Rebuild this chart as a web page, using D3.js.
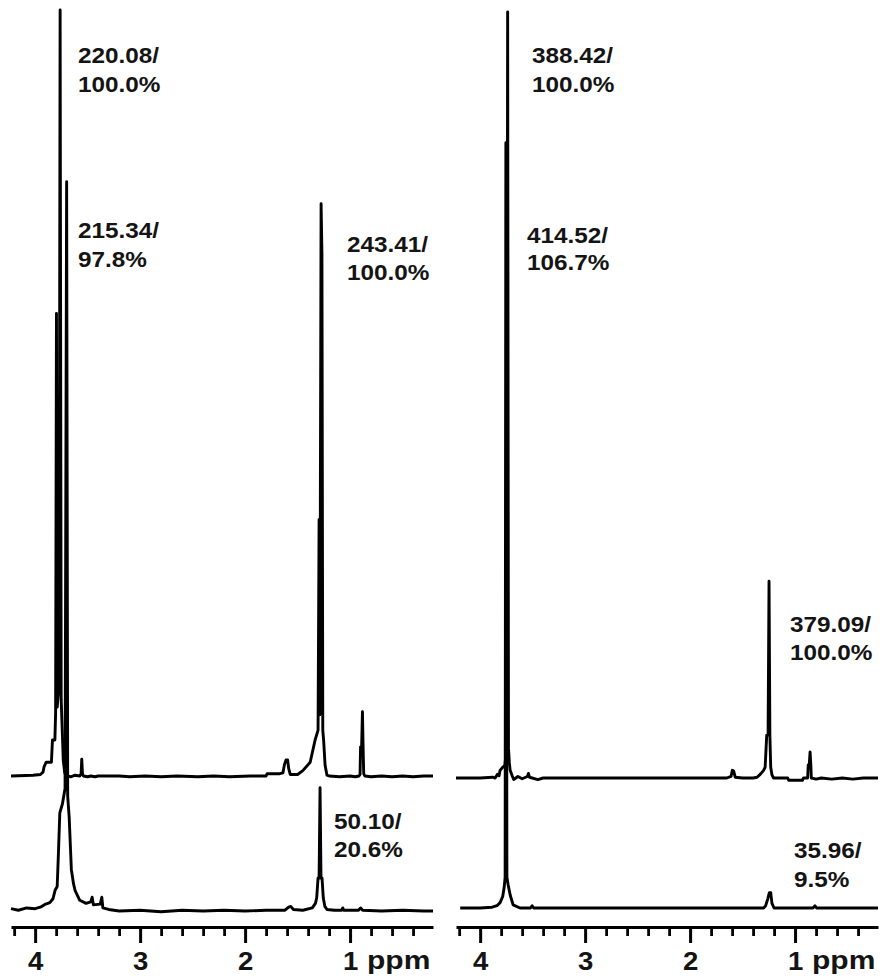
<!DOCTYPE html>
<html>
<head>
<meta charset="utf-8">
<script src="https://cdn.jsdelivr.net/npm/d3@7"></script>
<style>
  body { margin: 0; background: #fff; }
  svg { display: block; }
  .lbl, .tick text, .unit { font-family: "Liberation Sans", Arial, sans-serif; font-weight: bold; fill: #141414; }
</style>
</head>
<body>
<svg id="chart" width="885" height="978"></svg>
<script>
// 1H NMR spectra, chemical shift in ppm vs. relative intensity (tallest line = 100)

// Left panel, upper spectrum
const leftUpperTrace = [
  [4.23, 0], [4.02, 0.1], [3.95, 0.2], [3.925, 0.5], [3.915, 1.2], [3.895, 1.8], [3.845, 1.8],
  [3.835, 4.7], [3.812, 4.7], [3.805, 8.2], [3.797, 60.4], [3.790, 9], [3.772, 12], [3.762, 100],
  [3.752, 10], [3.742, 6], [3.732, 2], [3.718, 0.4], [3.70, 0], [3.66, -0.1], [3.62, 0.1],
  [3.575, 0], [3.562, 0.3], [3.556, 2.2], [3.549, 0.3], [3.54, 0], [3.50, -0.1], [3.47, 0],
  [3.43, -0.1], [3.40, 0], [3.20, 0], [3.10, -0.1], [2.95, 0], [2.80, -0.1], [2.65, 0],
  [2.45, -0.1], [2.30, 0], [2.15, -0.1], [1.95, 0], [1.80, 0], [1.79, 0.3], [1.67, 0.3],
  [1.64, 0.4], [1.625, 1.5], [1.61, 2.1], [1.595, 2.1], [1.585, 1.0], [1.57, 0.2], [1.50, 0.2],
  [1.45, 0.7], [1.38, 1.8], [1.333, 4.7], [1.305, 6.0], [1.295, 33.5], [1.288, 8], [1.276, 74.7],
  [1.268, 68.1], [1.26, 6], [1.252, 4.7], [1.238, 1.4], [1.22, 0.1], [1.20, 0], [1.10, -0.1],
  [1.00, 0], [0.95, -0.1], [0.915, 0], [0.905, 0.2], [0.900, 3.8], [0.890, 3.8], [0.882, 8.4],
  [0.876, 3.8], [0.870, 0.3], [0.86, 0], [0.80, -0.1], [0.70, 0], [0.60, -0.1], [0.50, 0],
  [0.40, -0.1], [0.30, 0], [0.21, 0]
];

// Left panel, lower spectrum
const leftLowerTrace = [
  [4.23, 0.3], [4.16, 0.1], [4.08, 0.4], [4.00, 0.3], [3.95, 0.5], [3.90, 0.9], [3.86, 1.1],
  [3.83, 1.6], [3.81, 2.7], [3.79, 3.2], [3.778, 7.6], [3.765, 12.8], [3.74, 14], [3.715, 16],
  [3.700, 95.2], [3.690, 15], [3.676, 12.3], [3.655, 5.4], [3.635, 3.6], [3.62, 2.7], [3.575, 1.4],
  [3.515, 1.0], [3.47, 1.2], [3.457, 1.8], [3.445, 0.8], [3.38, 0.9], [3.365, 1.8], [3.355, 0.4],
  [3.30, 0.2], [3.20, 0], [3.00, 0.1], [2.80, -0.1], [2.60, 0.1], [2.40, 0], [2.20, 0.1],
  [2.00, 0], [1.80, 0.1], [1.62, 0.1], [1.585, 0.5], [1.565, 0.6], [1.54, 0.2], [1.45, 0.1],
  [1.36, 0.4], [1.33, 1.0], [1.318, 1.7], [1.305, 4.3], [1.295, 4.3], [1.286, 16.1], [1.277, 4.3],
  [1.267, 4.3], [1.255, 1.7], [1.24, 0.6], [1.22, 0.2], [1.15, 0.1], [1.08, 0.1], [1.07, 0.4],
  [1.06, 0.1], [0.92, 0.1], [0.90, 0.4], [0.88, 0.1], [0.70, 0], [0.50, 0.1], [0.30, 0], [0.21, 0]
];

// Right panel, upper spectrum
const rightUpperTrace = [
  [4.23, 0], [4.00, 0], [3.88, 0.1], [3.857, 0], [3.835, 0.5], [3.82, 0.3], [3.81, 1.0],
  [3.785, 1.4], [3.765, 1.6], [3.748, 3.9], [3.738, 100], [3.730, 3.9], [3.722, 2.0], [3.714, 1.0],
  [3.695, 0.3], [3.68, -0.2], [3.64, 0.2], [3.60, -0.1], [3.55, 0.2], [3.54, 0.6], [3.53, 0.1],
  [3.45, -0.2], [3.40, 0], [3.00, 0], [2.50, 0], [2.00, 0], [1.65, 0], [1.61, 0.2], [1.598, 1.0],
  [1.585, 0.9], [1.57, 0.1], [1.50, 0], [1.40, 0], [1.362, 0.1], [1.33, 0.5], [1.30, 1.0],
  [1.285, 1.4], [1.27, 5.6], [1.257, 5.6], [1.248, 25.7], [1.240, 5.6], [1.232, 1.4], [1.22, 0.4],
  [1.205, 0], [1.07, 0], [1.06, -0.3], [0.93, -0.3], [0.92, 0], [0.88, 0], [0.875, 1.7],
  [0.865, 1.7], [0.857, 3.4], [0.850, 1.7], [0.845, 0], [0.80, -0.15], [0.75, 0], [0.65, -0.15],
  [0.55, 0], [0.45, -0.15], [0.35, 0], [0.21, 0]
];

// Right panel, lower spectrum
const rightLowerTrace = [
  [4.19, 0], [4.00, 0], [3.886, 0.1], [3.84, 0.3], [3.81, 0.7], [3.785, 1.5], [3.771, 2.7],
  [3.762, 4.0], [3.755, 99.9], [3.745, 4.0], [3.733, 3.0], [3.714, 1.7], [3.686, 0.4], [3.62, 0],
  [3.52, 0], [3.505, 0.3], [3.49, 0], [3.00, 0], [2.00, 0], [1.30, 0], [1.28, 0.3], [1.26, 1.2],
  [1.245, 2.0], [1.232, 2.0], [1.22, 0.6], [1.20, 0], [0.83, 0], [0.81, 0.3], [0.795, 0], [0.21, 0]
];

// Integrals of the annotated signals (3.7 ppm, 1.3 ppm)
const leftUpperIntegrals = [220.08, 243.41];
const leftLowerIntegrals = [215.34, 50.10];
const rightUpperIntegrals = [388.42, 379.09];
const rightLowerIntegrals = [414.52, 35.96];

// Axis ticks (ppm)
const majorTicks = [4, 3, 2, 1];
const minorTicks = [4.2, 3.8, 3.6, 3.4, 3.2, 2.8, 2.6, 2.4, 2.2, 1.8, 1.6, 1.4, 1.2, 0.8, 0.6, 0.4];
const ppmDomain = [4.23, 0.21];
const unitLabel = "ppm";

// ---------- layout ----------
const svg = d3.select("#chart");
const axisY = 927;
const plotHeight = 766;

function pctText(v, ref) { return (v / ref * 100).toFixed(1) + "%"; }
function valText(v) { return v.toFixed(2) + "/"; }

const panels = [
  {
    range: [11, 433],
    unitX: 367,
    traces: [ { data: leftUpperTrace, base: 776 }, { data: leftLowerTrace, base: 911 } ],
    labels: [
      { v: leftUpperIntegrals[0], ref: leftUpperIntegrals[0], x: 78, y: 63, dy: 29 },
      { v: leftLowerIntegrals[0], ref: leftUpperIntegrals[0], x: 78, y: 238, dy: 29 },
      { v: leftUpperIntegrals[1], ref: leftUpperIntegrals[1], x: 347, y: 252, dy: 28 },
      { v: leftLowerIntegrals[1], ref: leftUpperIntegrals[1], x: 334, y: 829, dy: 28 }
    ]
  },
  {
    range: [456, 878],
    unitX: 812,
    traces: [ { data: rightUpperTrace, base: 778 }, { data: rightLowerTrace, base: 908 } ],
    labels: [
      { v: rightUpperIntegrals[0], ref: rightUpperIntegrals[0], x: 532, y: 63, dy: 29 },
      { v: rightLowerIntegrals[0], ref: rightUpperIntegrals[0], x: 527, y: 243, dy: 27 },
      { v: rightUpperIntegrals[1], ref: rightUpperIntegrals[1], x: 790, y: 632, dy: 28 },
      { v: rightLowerIntegrals[1], ref: rightUpperIntegrals[1], x: 794, y: 858, dy: 29 }
    ]
  }
];

panels.forEach(p => {
  const x = d3.scaleLinear().domain(ppmDomain).range(p.range);
  const g = svg.append("g");

  // spectra
  p.traces.forEach(t => {
    const y = d3.scaleLinear().domain([0, 100]).range([t.base, t.base - plotHeight]);
    const line = d3.line().x(d => x(d[0])).y(d => y(d[1]));
    g.append("path")
      .datum(t.data)
      .attr("d", line)
      .attr("fill", "none")
      .attr("stroke", "#000")
      .attr("stroke-width", 2.9)
      .attr("stroke-linejoin", "round");
  });

  // minor ticks
  const minorAxis = d3.axisBottom(x).tickValues(minorTicks).tickSize(9).tickSizeOuter(0).tickFormat("");
  const gm = g.append("g").attr("transform", `translate(0,${axisY})`).call(minorAxis);
  gm.select(".domain").remove();
  gm.selectAll(".tick line").attr("stroke", "#000").attr("stroke-width", 2.8);

  // major ticks with labels
  const majorAxis = d3.axisBottom(x).tickValues(majorTicks).tickSize(16).tickSizeOuter(0)
    .tickPadding(9).tickFormat(d3.format("d"));
  const ga = g.append("g").attr("transform", `translate(0,${axisY})`).call(majorAxis);
  ga.select(".domain").attr("stroke", "#000").attr("stroke-width", 3.2);
  ga.selectAll(".tick line").attr("stroke", "#000").attr("stroke-width", 3);
  ga.selectAll(".tick text")
    .attr("font-size", 25)
    .attr("fill", "#141414")
    .attr("transform", "scale(1.1,1)");

  g.append("text")
    .attr("class", "unit")
    .attr("transform", `translate(${p.unitX},969) scale(1.2,1)`)
    .attr("font-size", 25)
    .text(unitLabel);

  // integral annotations
  p.labels.forEach(l => {
    const t = g.append("g").attr("class", "lbl");
    t.append("text")
      .attr("transform", `translate(${l.x},${l.y}) scale(1.08,1)`)
      .attr("font-size", 22.5)
      .text(valText(l.v));
    t.append("text")
      .attr("transform", `translate(${l.x},${l.y + l.dy}) scale(1.08,1)`)
      .attr("font-size", 22.5)
      .text(pctText(l.v, l.ref));
  });
});
</script>
</body>
</html>
